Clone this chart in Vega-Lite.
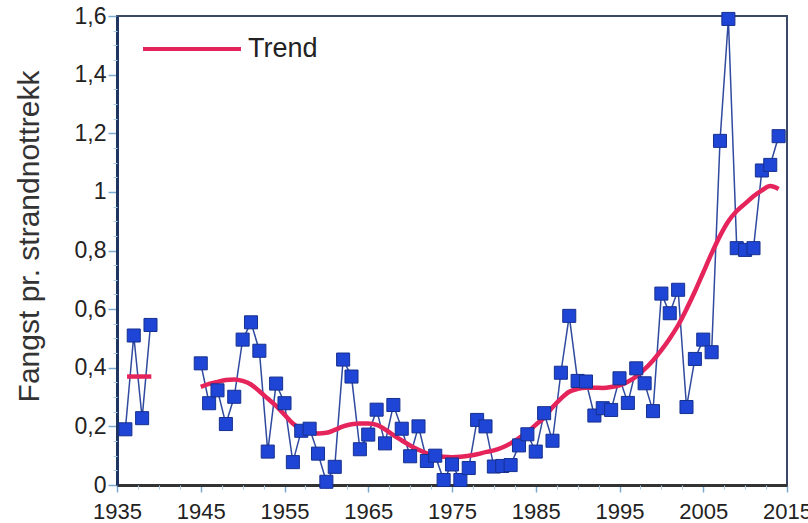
{
  "$schema": "https://vega.github.io/schema/vega-lite/v6.json",
  "width": 670,
  "height": 469,
  "autosize": {"type": "none"},
  "padding": {"left": 117, "top": 16, "right": 21, "bottom": 38},
  "background": "white",
  "config": {
    "font": "Liberation Sans",
    "view": {"stroke": "#3a4a66", "strokeWidth": 2},
    "axis": {"grid": false}
  },
  "datasets": {
    "obs": [
      {"year": 1936, "value": 0.19, "seg": "a"},
      {"year": 1937, "value": 0.51, "seg": "a"},
      {"year": 1938, "value": 0.228, "seg": "a"},
      {"year": 1939, "value": 0.546, "seg": "a"},
      {"year": 1945, "value": 0.415, "seg": "b"},
      {"year": 1946, "value": 0.279, "seg": "b"},
      {"year": 1947, "value": 0.323, "seg": "b"},
      {"year": 1948, "value": 0.208, "seg": "b"},
      {"year": 1949, "value": 0.301, "seg": "b"},
      {"year": 1950, "value": 0.496, "seg": "b"},
      {"year": 1951, "value": 0.555, "seg": "b"},
      {"year": 1952, "value": 0.458, "seg": "b"},
      {"year": 1953, "value": 0.114, "seg": "b"},
      {"year": 1954, "value": 0.346, "seg": "b"},
      {"year": 1955, "value": 0.279, "seg": "b"},
      {"year": 1956, "value": 0.078, "seg": "b"},
      {"year": 1957, "value": 0.185, "seg": "b"},
      {"year": 1958, "value": 0.192, "seg": "b"},
      {"year": 1959, "value": 0.107, "seg": "b"},
      {"year": 1960, "value": 0.011, "seg": "b"},
      {"year": 1961, "value": 0.062, "seg": "b"},
      {"year": 1962, "value": 0.428, "seg": "b"},
      {"year": 1963, "value": 0.37, "seg": "b"},
      {"year": 1964, "value": 0.122, "seg": "b"},
      {"year": 1965, "value": 0.172, "seg": "b"},
      {"year": 1966, "value": 0.257, "seg": "b"},
      {"year": 1967, "value": 0.142, "seg": "b"},
      {"year": 1968, "value": 0.273, "seg": "b"},
      {"year": 1969, "value": 0.192, "seg": "b"},
      {"year": 1970, "value": 0.098, "seg": "b"},
      {"year": 1971, "value": 0.2, "seg": "b"},
      {"year": 1972, "value": 0.082, "seg": "b"},
      {"year": 1973, "value": 0.1, "seg": "b"},
      {"year": 1974, "value": 0.017, "seg": "b"},
      {"year": 1975, "value": 0.07, "seg": "b"},
      {"year": 1976, "value": 0.017, "seg": "b"},
      {"year": 1977, "value": 0.058, "seg": "b"},
      {"year": 1978, "value": 0.222, "seg": "b"},
      {"year": 1979, "value": 0.2, "seg": "b"},
      {"year": 1980, "value": 0.063, "seg": "b"},
      {"year": 1981, "value": 0.065, "seg": "b"},
      {"year": 1982, "value": 0.068, "seg": "b"},
      {"year": 1983, "value": 0.135, "seg": "b"},
      {"year": 1984, "value": 0.173, "seg": "b"},
      {"year": 1985, "value": 0.114, "seg": "b"},
      {"year": 1986, "value": 0.245, "seg": "b"},
      {"year": 1987, "value": 0.151, "seg": "b"},
      {"year": 1988, "value": 0.383, "seg": "b"},
      {"year": 1989, "value": 0.577, "seg": "b"},
      {"year": 1990, "value": 0.355, "seg": "b"},
      {"year": 1991, "value": 0.353, "seg": "b"},
      {"year": 1992, "value": 0.237, "seg": "b"},
      {"year": 1993, "value": 0.262, "seg": "b"},
      {"year": 1994, "value": 0.256, "seg": "b"},
      {"year": 1995, "value": 0.364, "seg": "b"},
      {"year": 1996, "value": 0.28, "seg": "b"},
      {"year": 1997, "value": 0.398, "seg": "b"},
      {"year": 1998, "value": 0.347, "seg": "b"},
      {"year": 1999, "value": 0.252, "seg": "b"},
      {"year": 2000, "value": 0.653, "seg": "b"},
      {"year": 2001, "value": 0.586, "seg": "b"},
      {"year": 2002, "value": 0.666, "seg": "b"},
      {"year": 2003, "value": 0.266, "seg": "b"},
      {"year": 2004, "value": 0.43, "seg": "b"},
      {"year": 2005, "value": 0.496, "seg": "b"},
      {"year": 2006, "value": 0.453, "seg": "b"},
      {"year": 2007, "value": 1.174, "seg": "b"},
      {"year": 2008, "value": 1.59, "seg": "b"},
      {"year": 2009, "value": 0.808, "seg": "b"},
      {"year": 2010, "value": 0.802, "seg": "b"},
      {"year": 2011, "value": 0.808, "seg": "b"},
      {"year": 2012, "value": 1.073, "seg": "b"},
      {"year": 2013, "value": 1.092, "seg": "b"},
      {"year": 2014, "value": 1.19, "seg": "b"}
    ],
    "trend": [
      {"year": 1936.2, "value": 0.37, "seg": "a", "series": "Trend"},
      {"year": 1939.1, "value": 0.37, "seg": "a", "series": "Trend"},
      {"year": 1945, "value": 0.335, "seg": "b", "series": "Trend"},
      {"year": 1946, "value": 0.345, "seg": "b", "series": "Trend"},
      {"year": 1947, "value": 0.352, "seg": "b", "series": "Trend"},
      {"year": 1948, "value": 0.358, "seg": "b", "series": "Trend"},
      {"year": 1949, "value": 0.36, "seg": "b", "series": "Trend"},
      {"year": 1950, "value": 0.355, "seg": "b", "series": "Trend"},
      {"year": 1951, "value": 0.343, "seg": "b", "series": "Trend"},
      {"year": 1952, "value": 0.32, "seg": "b", "series": "Trend"},
      {"year": 1953, "value": 0.295, "seg": "b", "series": "Trend"},
      {"year": 1954, "value": 0.27, "seg": "b", "series": "Trend"},
      {"year": 1955, "value": 0.24, "seg": "b", "series": "Trend"},
      {"year": 1956, "value": 0.21, "seg": "b", "series": "Trend"},
      {"year": 1957, "value": 0.19, "seg": "b", "series": "Trend"},
      {"year": 1958, "value": 0.18, "seg": "b", "series": "Trend"},
      {"year": 1959, "value": 0.176, "seg": "b", "series": "Trend"},
      {"year": 1960, "value": 0.178, "seg": "b", "series": "Trend"},
      {"year": 1961, "value": 0.188, "seg": "b", "series": "Trend"},
      {"year": 1962, "value": 0.2, "seg": "b", "series": "Trend"},
      {"year": 1963, "value": 0.207, "seg": "b", "series": "Trend"},
      {"year": 1964, "value": 0.21, "seg": "b", "series": "Trend"},
      {"year": 1965, "value": 0.21, "seg": "b", "series": "Trend"},
      {"year": 1966, "value": 0.205, "seg": "b", "series": "Trend"},
      {"year": 1967, "value": 0.19, "seg": "b", "series": "Trend"},
      {"year": 1968, "value": 0.17, "seg": "b", "series": "Trend"},
      {"year": 1969, "value": 0.152, "seg": "b", "series": "Trend"},
      {"year": 1970, "value": 0.135, "seg": "b", "series": "Trend"},
      {"year": 1971, "value": 0.12, "seg": "b", "series": "Trend"},
      {"year": 1972, "value": 0.108, "seg": "b", "series": "Trend"},
      {"year": 1973, "value": 0.1, "seg": "b", "series": "Trend"},
      {"year": 1974, "value": 0.096, "seg": "b", "series": "Trend"},
      {"year": 1975, "value": 0.095, "seg": "b", "series": "Trend"},
      {"year": 1976, "value": 0.096, "seg": "b", "series": "Trend"},
      {"year": 1977, "value": 0.1, "seg": "b", "series": "Trend"},
      {"year": 1978, "value": 0.105, "seg": "b", "series": "Trend"},
      {"year": 1979, "value": 0.112, "seg": "b", "series": "Trend"},
      {"year": 1980, "value": 0.118, "seg": "b", "series": "Trend"},
      {"year": 1981, "value": 0.128, "seg": "b", "series": "Trend"},
      {"year": 1982, "value": 0.142, "seg": "b", "series": "Trend"},
      {"year": 1983, "value": 0.16, "seg": "b", "series": "Trend"},
      {"year": 1984, "value": 0.18, "seg": "b", "series": "Trend"},
      {"year": 1985, "value": 0.205, "seg": "b", "series": "Trend"},
      {"year": 1986, "value": 0.23, "seg": "b", "series": "Trend"},
      {"year": 1987, "value": 0.265, "seg": "b", "series": "Trend"},
      {"year": 1988, "value": 0.295, "seg": "b", "series": "Trend"},
      {"year": 1989, "value": 0.318, "seg": "b", "series": "Trend"},
      {"year": 1990, "value": 0.328, "seg": "b", "series": "Trend"},
      {"year": 1991, "value": 0.332, "seg": "b", "series": "Trend"},
      {"year": 1992, "value": 0.332, "seg": "b", "series": "Trend"},
      {"year": 1993, "value": 0.331, "seg": "b", "series": "Trend"},
      {"year": 1994, "value": 0.334, "seg": "b", "series": "Trend"},
      {"year": 1995, "value": 0.34, "seg": "b", "series": "Trend"},
      {"year": 1996, "value": 0.352, "seg": "b", "series": "Trend"},
      {"year": 1997, "value": 0.37, "seg": "b", "series": "Trend"},
      {"year": 1998, "value": 0.395, "seg": "b", "series": "Trend"},
      {"year": 1999, "value": 0.425, "seg": "b", "series": "Trend"},
      {"year": 2000, "value": 0.46, "seg": "b", "series": "Trend"},
      {"year": 2001, "value": 0.5, "seg": "b", "series": "Trend"},
      {"year": 2002, "value": 0.545, "seg": "b", "series": "Trend"},
      {"year": 2003, "value": 0.6, "seg": "b", "series": "Trend"},
      {"year": 2004, "value": 0.66, "seg": "b", "series": "Trend"},
      {"year": 2005, "value": 0.725, "seg": "b", "series": "Trend"},
      {"year": 2006, "value": 0.79, "seg": "b", "series": "Trend"},
      {"year": 2007, "value": 0.85, "seg": "b", "series": "Trend"},
      {"year": 2008, "value": 0.9, "seg": "b", "series": "Trend"},
      {"year": 2009, "value": 0.935, "seg": "b", "series": "Trend"},
      {"year": 2010, "value": 0.96, "seg": "b", "series": "Trend"},
      {"year": 2011, "value": 0.985, "seg": "b", "series": "Trend"},
      {"year": 2012, "value": 1.005, "seg": "b", "series": "Trend"},
      {"year": 2013, "value": 1.02, "seg": "b", "series": "Trend"},
      {"year": 2014, "value": 1.01, "seg": "b", "series": "Trend"}
    ]
  },
  "resolve": {"axis": {"x": "independent", "y": "independent"}},
  "layer": [
    {
      "data": {"name": "obs"},
      "mark": {"type": "line", "color": "#2f4a9e", "strokeWidth": 1.5},
      "encoding": {
        "x": {
          "field": "year", "type": "quantitative",
          "scale": {"domain": [1935, 2015], "nice": false, "zero": false},
          "axis": {
            "orient": "bottom", "title": null,
            "values": [1935, 1945, 1955, 1965, 1975, 1985, 1995, 2005, 2015],
            "format": "d",
            "labelFont": "Liberation Sans", "labelFontSize": 22, "labelColor": "#222",
            "labelPadding": 9, "labelFlush": false, "labelOverlap": false,
            "tickColor": "#7aaad0", "tickSize": 7, "tickWidth": 1.5,
            "domainColor": "#333", "domainWidth": 3
          }
        },
        "y": {
          "field": "value", "type": "quantitative",
          "scale": {"domain": [0, 1.6], "nice": false},
          "axis": {
            "orient": "left",
            "title": "Fangst pr. strandnottrekk",
            "titleFont": "Liberation Sans", "titleFontSize": 30, "titleFontWeight": "normal",
            "titleColor": "#333", "titleAngle": -90, "titleAlign": "center",
            "titleBaseline": "alphabetic", "titleX": -79, "titleY": 220,
            "values": [0, 0.2, 0.4, 0.6, 0.8, 1, 1.2, 1.4, 1.6],
            "labelExpr": "replace(format(datum.value, '.1~f'), '.', ',')",
            "labelFont": "Liberation Sans", "labelFontSize": 23, "labelColor": "#222",
            "labelPadding": 2, "labelFlush": false, "labelOverlap": false,
            "tickColor": "#7aaad0", "tickSize": 9, "tickWidth": 1.5,
            "domainColor": "#1e3560", "domainWidth": 3
          }
        },
        "detail": {"field": "seg"}
      }
    },
    {
      "data": {"name": "trend"},
      "mark": {"type": "line", "strokeWidth": 4.5, "interpolate": "monotone"},
      "encoding": {
        "x": {"field": "year", "type": "quantitative", "axis": null},
        "y": {"field": "value", "type": "quantitative", "axis": null},
        "detail": {"field": "seg"},
        "color": {
          "field": "series", "type": "nominal",
          "scale": {"range": ["#e6245c"]},
          "legend": {
            "title": null, "orient": "none", "legendX": 24, "legendY": -18,
            "symbolType": "stroke", "symbolSize": 9604, "symbolStrokeWidth": 4,
            "labelFont": "Liberation Sans", "labelFontSize": 27, "labelColor": "#222",
            "labelOffset": 5
          }
        }
      }
    },
    {
      "data": {"name": "obs"},
      "mark": {"type": "point", "shape": "square", "filled": true, "size": 170, "fill": "#1f45d6", "stroke": "#16308f", "strokeWidth": 1, "opacity": 1},
      "encoding": {
        "x": {"field": "year", "type": "quantitative", "axis": null},
        "y": {"field": "value", "type": "quantitative", "axis": null}
      }
    },
    {
      "data": {"name": "obs"},
      "mark": {"type": "point", "opacity": 0},
      "encoding": {
        "x": {
          "field": "year", "type": "quantitative",
          "axis": {
            "orient": "bottom", "title": null, "labels": false, "domain": false,
            "values": [1937.5, 1940, 1942.5, 1947.5, 1950, 1952.5, 1957.5, 1960, 1962.5, 1967.5, 1970, 1972.5, 1977.5, 1980, 1982.5, 1987.5, 1990, 1992.5, 1997.5, 2000, 2002.5, 2007.5, 2010, 2012.5],
            "tickColor": "#a9cbe6", "tickSize": 4, "tickWidth": 1
          }
        },
        "y": {
          "field": "value", "type": "quantitative",
          "axis": {
            "orient": "left", "title": null, "labels": false, "domain": false,
            "values": [0.05, 0.1, 0.15, 0.25, 0.3, 0.35, 0.45, 0.5, 0.55, 0.65, 0.7, 0.75, 0.85, 0.9, 0.95, 1.05, 1.1, 1.15, 1.25, 1.3, 1.35, 1.45, 1.5, 1.55],
            "tickColor": "#a9cbe6", "tickSize": 4, "tickWidth": 1
          }
        }
      }
    }
  ]
}
